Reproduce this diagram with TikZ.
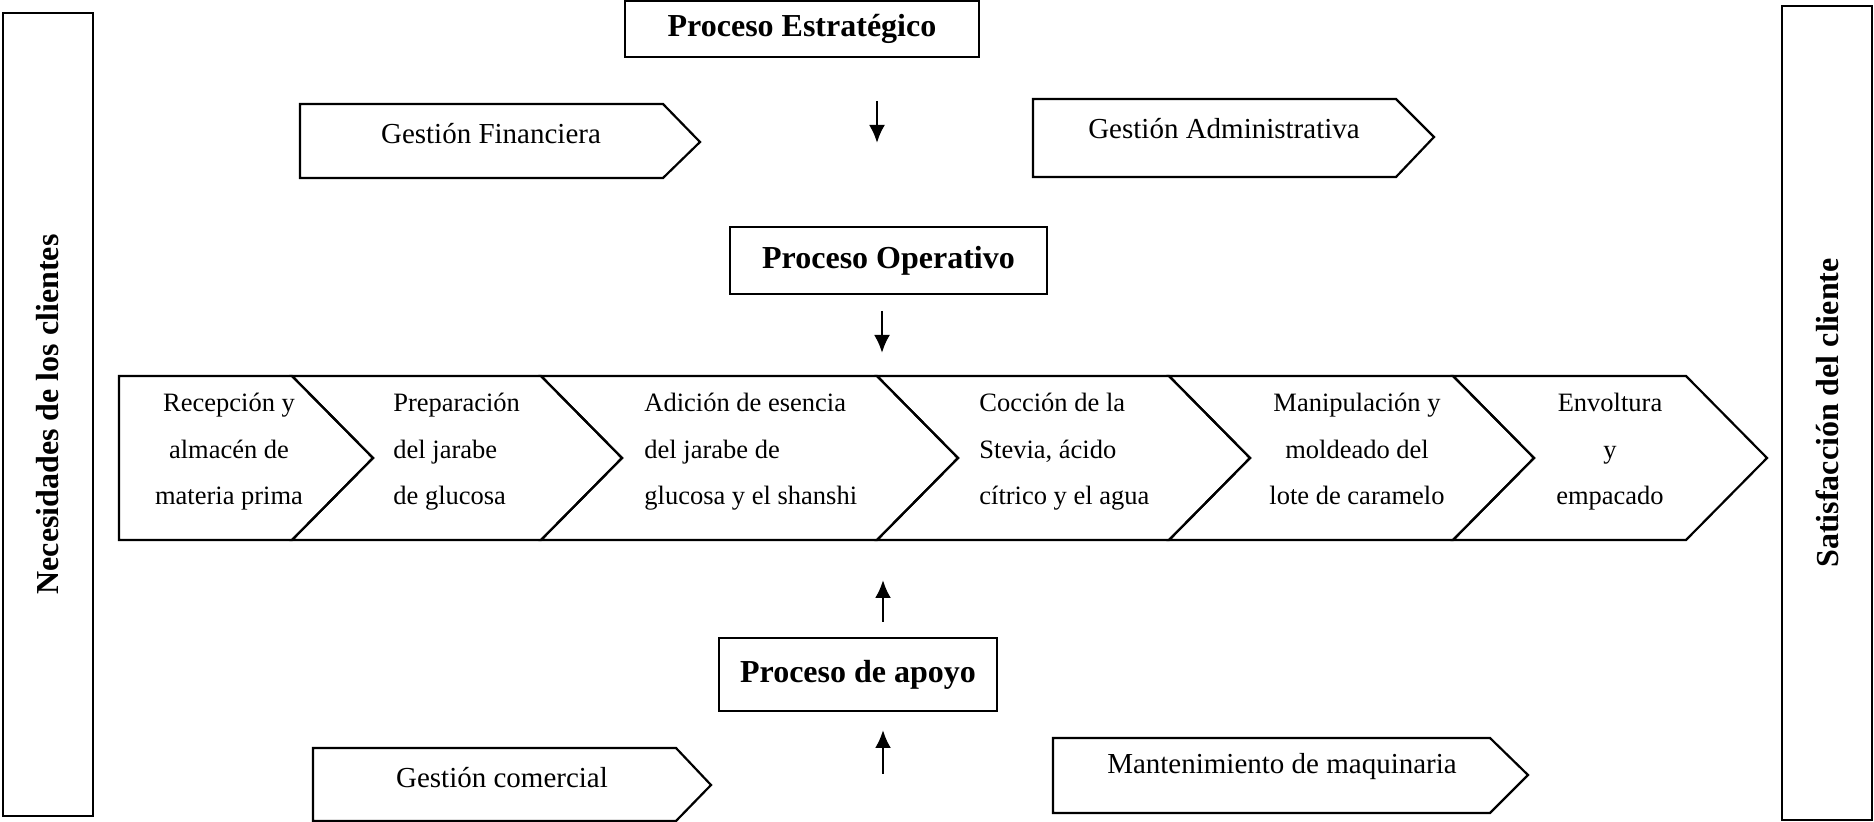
\documentclass[tikz,border=0pt]{standalone}
\usepackage{fontspec}
\setmainfont{Liberation Serif}
\usetikzlibrary{arrows.meta}
\begin{document}
\begin{tikzpicture}[x=0.5pt,y=-0.5pt,
  box/.style={draw, line width=1.1pt, inner sep=0pt},
  shp/.style={draw, line width=1.1pt, line join=miter},
  head/.style={font=\fontsize{16}{19}\selectfont\bfseries},
  gtext/.style={font=\fontsize{14.5}{17}\selectfont, inner sep=0pt},
  ctext/.style={font=\fontsize{13.25}{16}\selectfont, inner sep=0pt},
  arr/.style={-{Latex[length=9pt,width=8pt]}, line width=1.3pt}]
\useasboundingbox (0,0) rectangle (1874,822);

% side boxes
\node[box, head, rotate=90, minimum width=401.5pt, minimum height=45pt] (need) at (48,414.5) {Necesidades de los clientes};
\node[box, head, rotate=90, minimum width=407pt, minimum height=45pt] (sat) at (1827,413) {Satisfacción del cliente};

% header boxes
\node[box, head, minimum width=177pt, minimum height=28pt] (estr) at (802,29) {Proceso Estratégico};
\node[box, head, minimum width=158.5pt, minimum height=33.5pt] (oper) at (888.5,260.5) {Proceso Operativo};
\node[box, head, minimum width=139pt, minimum height=36.5pt] (apoyo) at (858,674.5) {Proceso de apoyo};

% gestion shapes
\draw[shp] (300,104) -- (663,104) -- (700,142) -- (663,178) -- (300,178) -- cycle;
\node[gtext] (gfin) at (491,134) {Gestión Financiera};
\draw[shp] (1033,99) -- (1396,99) -- (1434,137) -- (1396,177) -- (1033,177) -- cycle;
\node[gtext] (gadm) at (1224,129) {Gestión Administrativa};
\draw[shp] (313,748) -- (676,748) -- (711,785) -- (676,821) -- (313,821) -- cycle;
\node[gtext] (gcom) at (502,778) {Gestión comercial};
\draw[shp] (1053,738) -- (1490,738) -- (1528,775) -- (1490,813) -- (1053,813) -- cycle;
\node[gtext] (gman) at (1282,767) {Mantenimiento de maquinaria};

% arrows
\coordinate (a1s) at (877,101); \coordinate (a1e) at (877,143);
\coordinate (a2s) at (882,311); \coordinate (a2e) at (882,353);
\coordinate (a3s) at (883,622); \coordinate (a3e) at (883,580);
\coordinate (a4s) at (883,774); \coordinate (a4e) at (883,730);
\draw[arr] (a1s) -- (a1e);
\draw[arr] (a2s) -- (a2e);
\draw[arr] (a3s) -- (a3e);
\draw[arr] (a4s) -- (a4e);

% chain of chevrons
\draw[shp] (119,376) -- (292,376) -- (373,458) -- (292,540) -- (119,540) -- cycle;
\draw[shp] (292,376) -- (541,376) -- (622,458) -- (541,540) -- (292,540) -- (373,458) -- cycle;
\draw[shp] (541,376) -- (877,376) -- (958,458) -- (877,540) -- (541,540) -- (622,458) -- cycle;
\draw[shp] (877,376) -- (1169,376) -- (1250,458) -- (1169,540) -- (877,540) -- (958,458) -- cycle;
\draw[shp] (1169,376) -- (1453,376) -- (1534,458) -- (1453,540) -- (1169,540) -- (1250,458) -- cycle;
\draw[shp] (1453,376) -- (1686,376) -- (1767,458) -- (1686,540) -- (1453,540) -- (1534,458) -- cycle;

% chain texts
\node[ctext, anchor=base] (c11) at (229,412) {Recepción y};
\node[ctext, anchor=base] (c12) at (229,459) {almacén de};
\node[ctext, anchor=base] (c13) at (229,505) {materia prima};
\node[ctext, anchor=base west] (c21) at (393,412) {Preparación};
\node[ctext, anchor=base west] (c22) at (393,459) {del jarabe};
\node[ctext, anchor=base west] (c23) at (393,505) {de glucosa};
\node[ctext, anchor=base west] (c31) at (644,412) {Adición de esencia};
\node[ctext, anchor=base west] (c32) at (644,459) {del jarabe de};
\node[ctext, anchor=base west] (c33) at (644,505) {glucosa y el shanshi};
\node[ctext, anchor=base west] (c41) at (979,412) {Cocción de la};
\node[ctext, anchor=base west] (c42) at (979,459) {Stevia, ácido};
\node[ctext, anchor=base west] (c43) at (979,505) {cítrico y el agua};
\node[ctext, anchor=base] (c51) at (1357,412) {Manipulación y};
\node[ctext, anchor=base] (c52) at (1357,459) {moldeado del};
\node[ctext, anchor=base] (c53) at (1357,505) {lote de caramelo};
\node[ctext, anchor=base] (c61) at (1610,412) {Envoltura};
\node[ctext, anchor=base] (c62) at (1610,459) {y};
\node[ctext, anchor=base] (c63) at (1610,505) {empacado};
\end{tikzpicture}
\end{document}
